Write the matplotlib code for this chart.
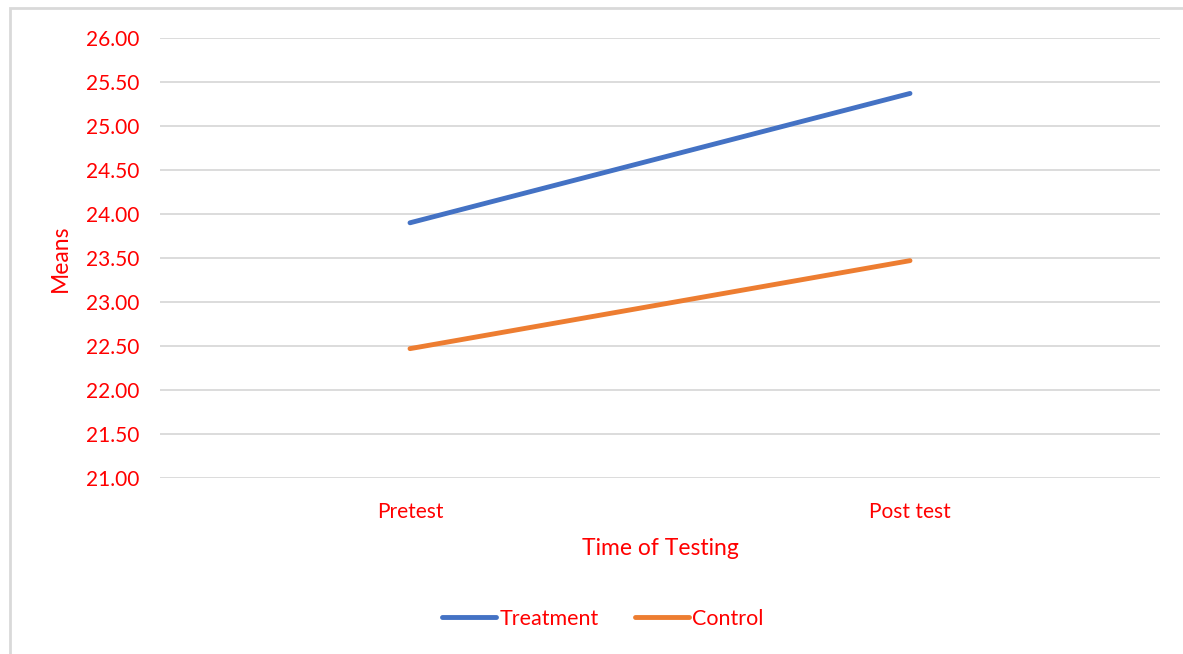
import matplotlib.pyplot as plt
from matplotlib.patches import Rectangle

# data
times = ['Pretest', 'Post test']
treatment = [23.90, 25.37]
control = [22.47, 23.47]
yticks = [21.0, 21.5, 22.0, 22.5, 23.0, 23.5, 24.0, 24.5, 25.0, 25.5, 26.0]

plt.rcParams['font.family'] = ['Lato', 'DejaVu Sans']
red = '#ff0000'

fig = plt.figure(figsize=(11.83, 6.54), dpi=100)
W, H = 1183, 654
ax = fig.add_axes([160 / W, 1 - 478 / H, 1000 / W, 440 / H])

x = [0, 1]
ax.plot(x, treatment, color='#4472c4', lw=3.5, solid_capstyle='round', label='Treatment')
ax.plot(x, control, color='#ed7d31', lw=3.5, solid_capstyle='round', label='Control')

ax.set_xlim(-0.5, 1.5)
ax.set_ylim(21, 26)
ax.set_yticks(yticks)
ax.set_yticklabels([f'{v:.2f}' for v in yticks])
ax.set_xticks(x)
ax.set_xticklabels(times)
ax.grid(axis='y', color='#d9d9d9', lw=1.3)
ax.set_axisbelow(True)
for s in ax.spines.values():
    s.set_visible(False)
ax.tick_params(length=0, labelsize=15, labelcolor=red)
ax.tick_params(axis='y', pad=15)
ax.tick_params(axis='x', pad=17)

ax.set_xlabel('Time of Testing', color=red, fontsize=16.5, labelpad=12)
ax.set_ylabel('Means', color=red, fontsize=16.5, labelpad=11)

leg = fig.legend(loc='center', bbox_to_anchor=(603 / W, 1 - 619 / H), ncol=2,
                 frameon=False, fontsize=15.5, handlelength=2.5, handletextpad=0.15,
                 columnspacing=1.7)
for t in leg.get_texts():
    t.set_color(red)

# light frame around the chart
fig.patches.append(Rectangle((10 / W, -0.01), 1.0, 1 - 8 / H + 0.01, transform=fig.transFigure,
                             fill=False, edgecolor='#d9d9d9', lw=2))

fig.savefig('out.png', dpi=100, facecolor='white')
